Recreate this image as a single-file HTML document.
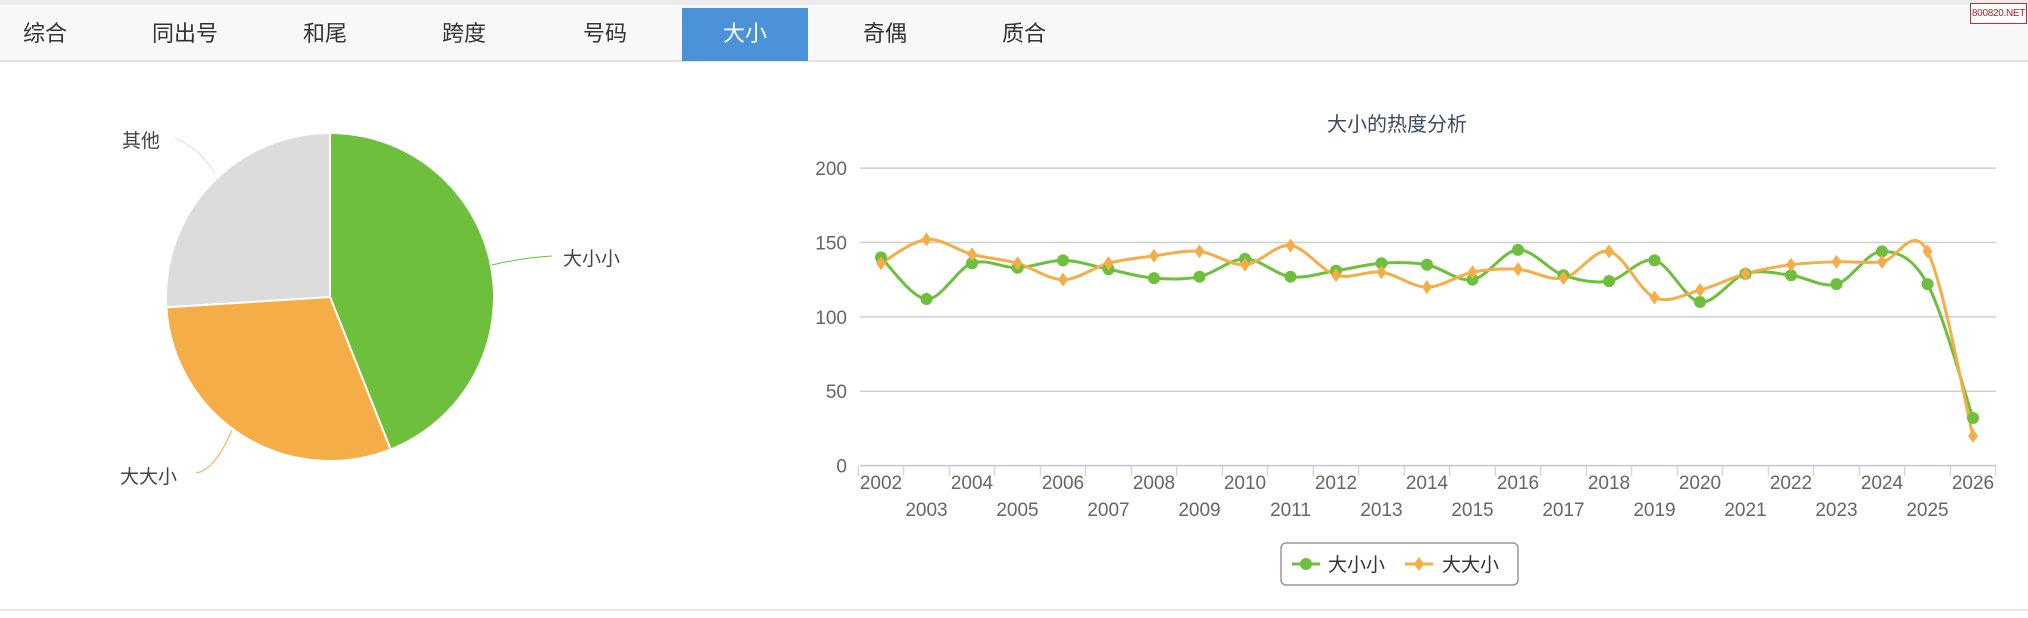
<!DOCTYPE html>
<html><head><meta charset="utf-8"><style>
body{margin:0;width:2028px;height:618px;background:#fff;overflow:hidden;font-family:"Liberation Sans","Noto Sans CJK SC",sans-serif;position:relative}
#top{position:absolute;left:0;top:0;width:2028px;height:5px;background:#ececec}
#bar{position:absolute;left:0;top:5px;width:2028px;height:55px;background:#f7f8f9;border-bottom:2px solid #e3e3e3}
.t{position:absolute;top:8px;height:52px;line-height:52px;font-size:22px;color:#333;transform:translateX(-50%)}
#act{position:absolute;left:682px;top:8px;width:126px;height:53px;background:#4b92d9}
#wm{position:absolute;left:1970px;top:3px;width:55px;height:19px;border:1px solid #b33;color:#a22;font-size:10px;line-height:19px;text-align:center;background:#fff;white-space:nowrap;letter-spacing:-0.3px}
#bot{position:absolute;left:0;top:609px;width:2028px;height:2px;background:#e6e6e6}
</style></head><body>
<div id="top"></div><div id="bar"></div><div id="act"></div>
<div class="t" style="left:45px">综合</div><div class="t" style="left:185px">同出号</div><div class="t" style="left:325px">和尾</div><div class="t" style="left:464px">跨度</div><div class="t" style="left:605px">号码</div><div class="t" style="left:745px;color:#fff">大小</div><div class="t" style="left:885px">奇偶</div><div class="t" style="left:1024px">质合</div>
<div id="wm">800820.NET</div><div id="bot"></div>
<svg id="s" width="2028" height="618" style="position:absolute;left:0;top:0" font-family="Liberation Sans, Noto Sans CJK SC, sans-serif"></svg>
<script>
var s=document.getElementById('s'),h='';
var cx=330,cy=297,r=164;
function pt(a){a=a*Math.PI/180;return [cx+r*Math.sin(a),cy-r*Math.cos(a)];}
function sl(a,b,c){var p=pt(a),q=pt(b);h+='<path d="M'+cx+','+cy+'L'+p[0]+','+p[1]+'A'+r+','+r+' 0 '+((b-a)>180?1:0)+',1 '+q[0]+','+q[1]+'Z" fill="'+c+'" stroke="#fff" stroke-width="2"/>';}
sl(0,158.3,'#6dbf3c');sl(158.3,266.4,'#f5ae47');sl(266.4,360,'#dcdcdc');
h+='<path d="M492,265 Q520,258 552,256" stroke="#6dbf3c" fill="none"/><text x="563" y="265" font-size="19" fill="#444">大小小</text>';
h+='<path d="M215,174 Q200,148 175,138" stroke="#ddd" fill="none"/><text x="122" y="147" font-size="19" fill="#444">其他</text>';
h+='<path d="M232,430 Q215,470 196,473" stroke="#f5ae47" fill="none"/><text x="120" y="483" font-size="19" fill="#444">大大小</text>';
h+='<text x="1397" y="131" font-size="20" fill="#3a4a60" text-anchor="middle">大小的热度分析</text>';
function Y(v){return 465.6-v*1.4875;}function X(i){return 881+i*45.5;}
[0,50,100,150,200].forEach(function(v){h+='<line x1="860" x2="1996" y1="'+Y(v)+'" y2="'+Y(v)+'" stroke="'+(v?'#cfcfcf':'#c0c8d8')+'" stroke-width="1.5"/><text x="847" y="'+(Y(v)+7)+'" font-size="19" fill="#666" text-anchor="end">'+v+'</text>';});
for(var k=0;k<=25;k++){var x=X(k)-22.75;h+='<line x1="'+x+'" x2="'+x+'" y1="466" y2="476" stroke="#c0c8d8"/>';}
for(var i=0;i<25;i++){h+='<text x="'+X(i)+'" y="'+(i%2?516:489)+'" font-size="19" fill="#666" text-anchor="middle">'+(2002+i)+'</text>';}
var g=[140,112,136,133,138,132,126,127,139,127,131,136,135,125,145,128,124,138,110,129,128,122,144,122,32];
var o=[136,152,142,136,125,136,141,144,135,148,128,130,120,130,132,126,144,113,118,129,135,137,137,144,20];
function path(d){var p=d.map(function(v,i){return [X(i),Y(v)];}),s='M'+p[0];for(var i=0;i<p.length-1;i++){var a=p[i-1]||p[i],b=p[i],c=p[i+1],e=p[i+2]||c;s+='C'+(b[0]+(c[0]-a[0])/6)+','+(b[1]+(c[1]-a[1])/6)+' '+(c[0]-(e[0]-b[0])/6)+','+(c[1]-(e[1]-b[1])/6)+' '+c;}return s;}
h+='<path d="'+path(g)+'" stroke="#6dbf3c" stroke-width="3" fill="none"/>';
h+='<path d="'+path(o)+'" stroke="#f5ae47" stroke-width="3" fill="none"/>';
g.forEach(function(v,i){h+='<circle cx="'+X(i)+'" cy="'+Y(v)+'" r="6" fill="#6dbf3c"/>';});
function dia(x,y){return '<path d="M'+x+','+(y-7)+'L'+(x+5)+','+y+'L'+x+','+(y+7)+'L'+(x-5)+','+y+'Z" fill="#f5ae47"/>';}
o.forEach(function(v,i){h+=dia(X(i),Y(v));});
h+='<rect x="1281" y="543" width="237" height="42" rx="5" fill="#fff" stroke="#999" stroke-width="1.5"/>';
h+='<line x1="1292" x2="1320" y1="564" y2="564" stroke="#6dbf3c" stroke-width="3"/><circle cx="1306" cy="564" r="6" fill="#6dbf3c"/><text x="1328" y="571" font-size="19" fill="#333">大小小</text>';
h+='<line x1="1405" x2="1433" y1="564" y2="564" stroke="#f5ae47" stroke-width="3"/>'+dia(1419,564)+'<text x="1442" y="571" font-size="19" fill="#333">大大小</text>';
s.innerHTML=h;
</script>
</body></html>
